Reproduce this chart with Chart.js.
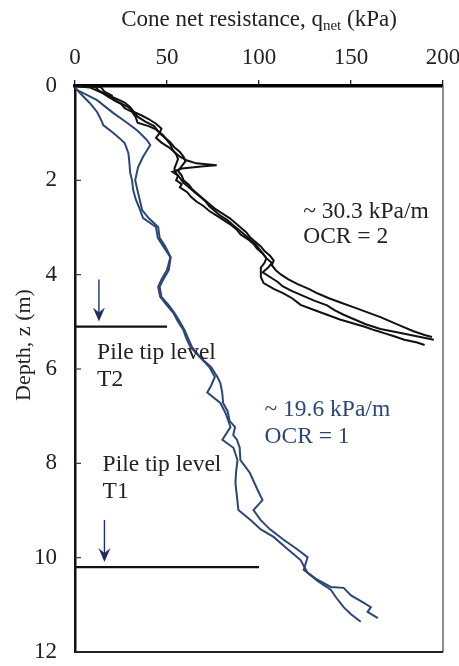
<!DOCTYPE html>
<html>
<head>
<meta charset="utf-8">
<script src="https://cdn.jsdelivr.net/npm/chart.js@4.4.1/dist/chart.umd.min.js"></script>
<style>
  html, body { margin: 0; padding: 0; background: #fff; }
  #wrap { width: 459px; height: 666px; }
</style>
</head>
<body>
<div id="wrap"><canvas id="cpt" width="459" height="666"></canvas></div>
<script>
// ── Data ───────────────────────────────────────────────────────────────────
const xTicks = [0, 50, 100, 150, 200];
const yTicks = [0, 2, 4, 6, 8, 10, 12];

// OCR = 2 soundings (black)
const ocr2A_z = [0, 0.02, 0.12, 0.2, 0.3, 0.38, 0.47, 0.55, 0.66, 0.78, 0.85, 0.92, 1.0, 1.1, 1.2, 1.3, 1.4, 1.5, 1.58, 1.64, 1.68, 1.7, 1.75, 1.82, 1.9, 2.0, 2.08, 2.15, 2.25, 2.35, 2.45, 2.55, 2.65, 2.75, 2.85, 2.95, 3.05, 3.15, 3.25, 3.35, 3.45, 3.55, 3.65, 3.75, 3.85, 3.95, 4.05, 4.15, 4.25, 4.35, 4.45, 4.55, 4.65, 4.75, 4.85, 4.95, 5.05, 5.15, 5.22, 5.3, 5.38];
const ocr2A_q = [0, 14, 16, 20, 21, 25, 27, 31, 33, 34, 40, 44, 46, 44, 47, 51, 54, 57, 61, 66, 77, 70, 58, 53, 56, 55, 58, 57, 61, 63, 66, 70, 73, 77, 81, 85, 88, 90, 94, 97, 99, 102, 104, 107, 105, 102, 106, 110, 113, 118, 124, 130, 137, 141, 146, 152, 158, 166, 175, 185, 195];

const ocr2B_z = [0, 0.02, 0.1, 0.2, 0.28, 0.35, 0.45, 0.55, 0.62, 0.7, 0.8, 0.9, 1.0, 1.1, 1.2, 1.3, 1.4, 1.5, 1.6, 1.7, 1.8, 1.9, 2.0, 2.1, 2.2, 2.3, 2.4, 2.5, 2.6, 2.7, 2.8, 2.9, 3.0, 3.1, 3.2, 3.3, 3.4, 3.5, 3.6, 3.7, 3.8, 3.9, 4.0, 4.1, 4.2, 4.3, 4.4, 4.5, 4.6, 4.7, 4.8, 4.9, 5.0, 5.1, 5.2, 5.28, 5.32];
const ocr2B_q = [0, 11, 13, 18, 23, 27, 30, 32, 36, 40, 44, 47, 46, 49, 52, 54, 57, 59, 60, 58, 56, 58, 59, 62, 64, 67, 70, 73, 76, 80, 84, 87, 90, 93, 95, 98, 101, 103, 106, 108, 107, 109, 112, 116, 121, 127, 132, 138, 145, 152, 159, 166, 172, 178, 184, 190, 194];

const ocr2C_z = [0, 0.03, 0.15, 0.25, 0.35, 0.45, 0.55, 0.65, 0.75, 0.85, 0.95, 1.05, 1.15, 1.25, 1.35, 1.45, 1.55, 1.65, 1.75, 1.85, 1.95, 2.05, 2.15, 2.25, 2.35, 2.45, 2.55, 2.65, 2.75, 2.85, 2.95, 3.05, 3.15, 3.25, 3.35, 3.45, 3.55, 3.65, 3.75, 3.85, 3.95, 4.05, 4.18, 4.3, 4.39, 4.5, 4.64, 4.75, 4.85, 4.95, 5.02, 5.1, 5.18, 5.24, 5.3, 5.38, 5.44, 5.49];
const ocr2C_q = [0, 8, 15, 19, 24, 29, 32, 34, 38, 43, 45, 48, 50, 52, 53, 55, 56, 55, 54, 55, 57, 59, 62, 65, 68, 71, 73, 76, 79, 83, 86, 89, 92, 95, 98, 100, 102, 104, 103, 101, 101, 101, 102.5, 108, 113, 118, 122.6, 130, 137, 144, 150, 157, 163, 168, 173, 179, 186, 190];

// OCR = 1 soundings (blue)
const ocr1A_z = [0, 0.08, 0.2, 0.36, 0.55, 0.76, 0.83, 0.99, 1.1, 1.21, 1.42, 1.6, 1.84, 2.0, 2.2, 2.4, 2.63, 2.8, 2.99, 3.22, 3.4, 3.63, 3.9, 4.1, 4.26, 4.47, 4.65, 4.81, 5.0, 5.17, 5.35, 5.53, 5.75, 5.96, 6.17, 6.35, 6.5, 6.72, 6.95, 7.23, 7.5, 7.67, 7.93, 8.2, 8.42, 8.7, 8.99, 9.2, 9.4, 9.56, 9.8, 10.05, 10.32, 10.5, 10.68, 10.85, 11.05, 11.2, 11.36];
const ocr1A_q = [0, 1, 4, 8, 12, 14.7, 15.3, 20.7, 24, 27, 29, 29.5, 30, 31, 31.6, 33, 35.4, 37, 44, 45, 48, 51.8, 50, 47, 45.2, 46.3, 50, 53.4, 56, 58.9, 60.5, 62.7, 68, 73, 76, 74, 71.9, 79, 82, 84.5, 80.1, 86.1, 88.3, 87.5, 87.2, 88, 88.8, 95.4, 101, 107.9, 115, 122.6, 126.4, 132, 139, 142, 146, 150, 155.3];

const ocr1B_z = [0, 0.08, 0.3, 0.57, 0.78, 0.95, 1.14, 1.25, 1.5, 1.72, 2.0, 2.27, 2.63, 2.8, 2.99, 3.22, 3.4, 3.63, 3.9, 4.1, 4.26, 4.47, 4.65, 4.81, 5.0, 5.17, 5.35, 5.53, 5.75, 5.96, 6.17, 6.3, 6.5, 6.72, 6.9, 7.1, 7.23, 7.4, 7.5, 7.67, 7.93, 8.2, 8.56, 8.78, 8.99, 9.2, 9.4, 9.62, 9.8, 9.99, 10.26, 10.45, 10.62, 10.64, 10.8, 10.96, 11.05, 11.15, 11.28];
const ocr1B_q = [0, 1, 12, 20.7, 28.3, 34, 39, 40.9, 37, 34.3, 32.7, 34.3, 36.5, 40, 45.2, 46, 49, 52, 51, 48, 46, 47, 51, 54, 57, 59.5, 61.5, 63.5, 68, 74, 77.4, 79, 80, 80.5, 83, 84, 87, 86, 88, 89.5, 89.9, 95, 99.2, 101.9, 97, 100.8, 106, 113.4, 120, 126.4, 124.3, 131, 139, 146, 150, 157, 160.8, 159, 164.6];

// pile tip levels: depth, line end (kPa), arrow q, arrow top depth
const tipNames  = ['T2', 'T1'];
const tipDepth  = [5.1, 10.2];
const tipLineQ  = [50, 100];
const arrowQ    = [13, 16];
const arrowTopZ = [4.1, 9.2];
const tipLabelQ = [12, 15];
const tipLabelZ = [5.66, 8.03];

const BLACK = '#111111';
const BLUE  = '#2e4772';
const SERIF = '"Liberation Serif", "DejaVu Serif", serif';

function pts(q, z) { return q.map((v, i) => ({ x: v, y: z[i] })); }

function trace(q, z, color) {
  return {
    data: pts(q, z), showLine: true, borderColor: color, borderWidth: 2,
    pointRadius: 0, tension: 0, fill: false
  };
}

const datasets = [
  trace(ocr2A_q, ocr2A_z, BLACK),
  trace(ocr2B_q, ocr2B_z, BLACK),
  trace(ocr2C_q, ocr2C_z, BLACK),
  trace(ocr1A_q, ocr1A_z, BLUE),
  trace(ocr1B_q, ocr1B_z, BLUE)
];
tipDepth.forEach((d, i) => {
  datasets.push({
    data: [{ x: 0, y: d }, { x: tipLineQ[i], y: d }], showLine: true,
    borderColor: '#111', borderWidth: 2.2, pointRadius: 0
  });
});

// ── Decorations: frame, inner ticks, titles, labels, arrows ────────────────
const decor = {
  id: 'decor',
  afterDatasetsDraw(chart) {
    const { ctx, chartArea: a, scales: { x, y } } = chart;
    ctx.save();

    // right + bottom frame
    ctx.strokeStyle = '#666'; ctx.lineWidth = 1.5;
    ctx.beginPath(); ctx.moveTo(a.right, a.top); ctx.lineTo(a.right, a.bottom); ctx.stroke();
    ctx.strokeStyle = '#222'; ctx.lineWidth = 2;
    ctx.beginPath(); ctx.moveTo(a.left, a.bottom); ctx.lineTo(a.right, a.bottom); ctx.stroke();

    // inner y ticks
    ctx.strokeStyle = '#333'; ctx.lineWidth = 1.2;
    yTicks.slice(1, -1).forEach(t => {
      const py = y.getPixelForValue(t);
      ctx.beginPath(); ctx.moveTo(a.left, py); ctx.lineTo(a.left + 6, py); ctx.stroke();
    });

    // top title with subscript
    ctx.fillStyle = '#222';
    ctx.textBaseline = 'alphabetic';
    const main = 'Cone net resistance, q', sub = 'net', tail = ' (kPa)';
    ctx.font = '23px ' + SERIF;
    const w1 = ctx.measureText(main).width, w3 = ctx.measureText(tail).width;
    ctx.font = '15px ' + SERIF;
    const w2 = ctx.measureText(sub).width;
    let tx = (a.left + a.right) / 2 - (w1 + w2 + w3) / 2;
    const ty = 26;
    ctx.textAlign = 'left';
    ctx.font = '23px ' + SERIF; ctx.fillText(main, tx, ty); tx += w1;
    ctx.font = '15px ' + SERIF; ctx.fillText(sub, tx, ty + 4); tx += w2;
    ctx.font = '23px ' + SERIF; ctx.fillText(tail, tx, ty);

    // left title
    ctx.save();
    ctx.translate(30, 345);
    ctx.rotate(-Math.PI / 2);
    ctx.textAlign = 'center';
    ctx.font = '22px ' + SERIF;
    ctx.fillText('Depth, z (m)', 0, 0);
    ctx.restore();

    // slope notes
    ctx.font = '23.5px ' + SERIF;
    ctx.textBaseline = 'middle';
    ctx.fillStyle = '#222';
    ctx.fillText('~ 30.3 kPa/m', x.getPixelForValue(124), y.getPixelForValue(2.67));
    ctx.fillText('OCR = 2', x.getPixelForValue(124), y.getPixelForValue(3.2));
    ctx.fillStyle = BLUE;
    ctx.fillText('~ 19.6 kPa/m', x.getPixelForValue(103), y.getPixelForValue(6.87));
    ctx.fillText('OCR = 1', x.getPixelForValue(103), y.getPixelForValue(7.44));

    // pile tip labels + arrows
    tipNames.forEach((n, i) => {
      const lx = x.getPixelForValue(tipLabelQ[i]);
      const ly = y.getPixelForValue(tipLabelZ[i]);
      ctx.fillStyle = '#222';
      ctx.fillText('Pile tip level', lx, ly);
      ctx.fillText(n, lx, ly + 27);

      const ax = x.getPixelForValue(arrowQ[i]);
      const ay0 = y.getPixelForValue(arrowTopZ[i]);
      const ay1 = y.getPixelForValue(tipDepth[i]) - 5;
      ctx.strokeStyle = '#1e2f5e'; ctx.fillStyle = '#1e2f5e'; ctx.lineWidth = 1.4;
      ctx.beginPath(); ctx.moveTo(ax, ay0); ctx.lineTo(ax, ay1 - 6); ctx.stroke();
      ctx.beginPath();
      ctx.moveTo(ax, ay1); ctx.lineTo(ax - 6, ay1 - 14); ctx.lineTo(ax, ay1 - 9); ctx.lineTo(ax + 6, ay1 - 14);
      ctx.closePath(); ctx.fill();
    });

    ctx.restore();
  }
};

new Chart(document.getElementById('cpt'), {
  type: 'scatter',
  data: { datasets },
  options: {
    responsive: false,
    animation: false,
    devicePixelRatio: 1,
    layout: { padding: 0 },
    plugins: { legend: { display: false }, tooltip: { enabled: false } },
    scales: {
      x: {
        type: 'linear', position: 'top', min: 0, max: 200,
        afterBuildTicks: s => { s.ticks = xTicks.map(v => ({ value: v })); },
        afterFit: s => { s.height = 86; s.paddingLeft = 0; s.paddingRight = 16; },
        grid: { drawOnChartArea: false, drawTicks: true, tickLength: 6, color: '#222', lineWidth: 1.3 },
        border: { display: true, color: '#000', width: 3.5 },
        ticks: { color: '#222', padding: 8, maxRotation: 0, font: { family: SERIF, size: 23 } }
      },
      y: {
        type: 'linear', reverse: true, min: 0, max: 12,
        afterBuildTicks: s => { s.ticks = yTicks.map(v => ({ value: v })); },
        afterFit: s => { s.width = 75; s.paddingTop = 0; s.paddingBottom = 14; },
        grid: { display: false, drawTicks: false },
        border: { display: true, color: '#111', width: 2.5 },
        ticks: { color: '#222', padding: 18, font: { family: SERIF, size: 23 } }
      }
    }
  },
  plugins: [decor]
});
</script>
</body>
</html>
